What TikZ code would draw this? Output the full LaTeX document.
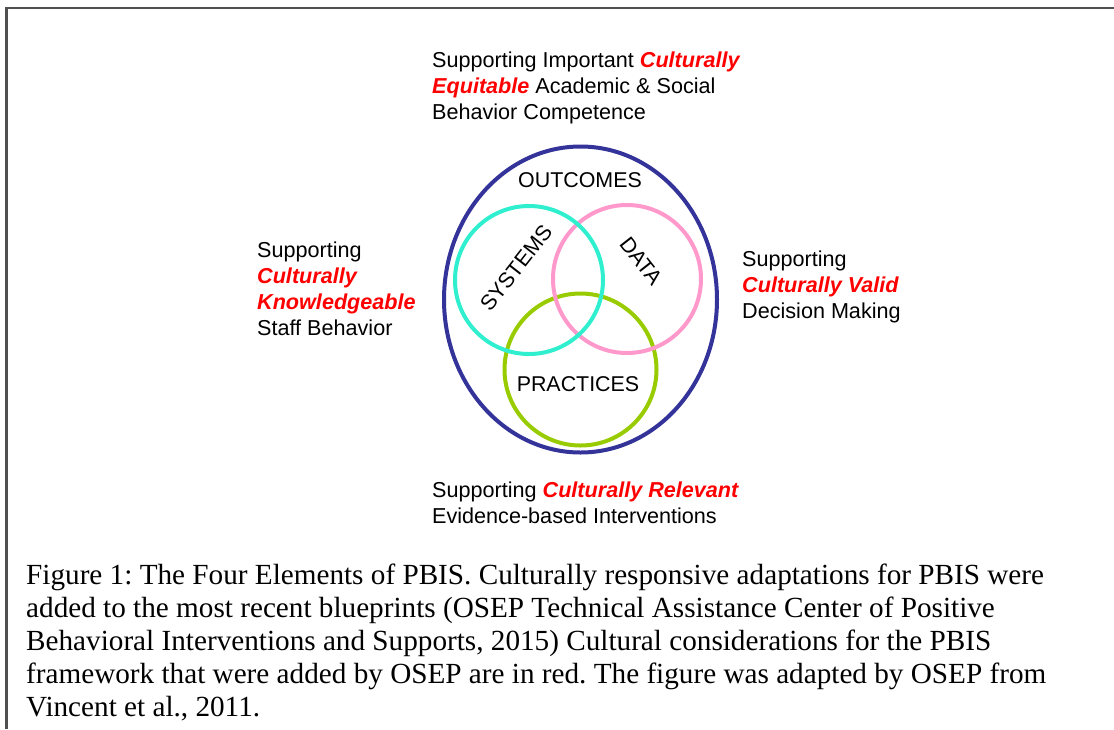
\documentclass[tikz,border=0pt]{standalone}
\usepackage{fontspec}
\setmainfont{Liberation Serif}
\setsansfont{Liberation Sans}
\usepackage{xcolor}
\usetikzlibrary{shapes.geometric}
\frenchspacing

\definecolor{outcomeblue}{HTML}{333399}
\definecolor{systemcyan}{HTML}{30EFCF}
\definecolor{datapink}{HTML}{FF99CC}
\definecolor{practicegreen}{HTML}{99CC00}
\definecolor{framegray}{HTML}{505050}

% red emphasis inside the labels
\newcommand{\cult}[1]{\textcolor{red}{\bfseries\itshape #1}}

\begin{document}
\begin{tikzpicture}[
    x=1pt, y=-1pt,
    ring/.style={circle, line width=4pt, minimum size=148pt, inner sep=0pt},
    element/.style={font=\sffamily\fontsize{21.4}{26}\selectfont, inner sep=0pt},
    note/.style={font=\sffamily\fontsize{21.6}{26}\selectfont, align=left, anchor=base west, inner sep=0pt},
    caption/.style={font=\rmfamily\fontsize{29.2}{33}\selectfont, align=left, anchor=base west, inner sep=0pt}
]
\useasboundingbox (0,0) rectangle (1114,729);
\draw[framegray, line width=2.5pt] (6.5,729) -- (6.5,8) -- (1114,8);

% the four elements
\node[ellipse, draw=outcomeblue, line width=4pt, minimum width=273pt, minimum height=306pt, inner sep=0pt] (outcomes) at (580.5,299.5) {};
\node[ring, draw=practicegreen, minimum size=152pt] (practices) at (580.5,369.5) {};
\node[ring, draw=datapink] (data) at (627,279) {};
\node[ring, draw=systemcyan] (systems) at (529,280) {};

\node[element] (outcomeslabel) at (580,180) {OUTCOMES};
\node[element, rotate=52] (systemslabel) at (516,268) {SYSTEMS};
\node[element, rotate=-52] (datalabel) at (641,261) {DATA};
\node[element] (practiceslabel) at (578,384) {PRACTICES};

% supporting notes round the ellipse (placed by the last line's baseline)
\node[note] (outcomesnote) at (432,119) {Supporting Important \cult{Culturally}\\
  \cult{Equitable} Academic \& Social\\Behavior Competence};
\node[note] (systemsnote) at (257,335) {Supporting\\\cult{Culturally}\\
  \cult{Knowledgeable}\\Staff Behavior};
\node[note] (datanote) at (742,318) {Supporting\\\cult{Culturally Valid}\\Decision Making};
\node[note] (practicesnote) at (432,523) {Supporting \cult{Culturally Relevant}\\
  Evidence-based Interventions};

\node[caption] (figcaption) at (26,716) {Figure 1: The Four Elements of PBIS. Culturally responsive adaptations for PBIS were\\
  added to the most recent blueprints (OSEP Technical Assistance Center of Positive\\
  Behavioral Interventions and Supports, 2015) Cultural considerations for the PBIS\\
  framework that were added by OSEP are in red. The figure was adapted by OSEP from\\
  Vincent et al., 2011.};
\end{tikzpicture}
\end{document}
